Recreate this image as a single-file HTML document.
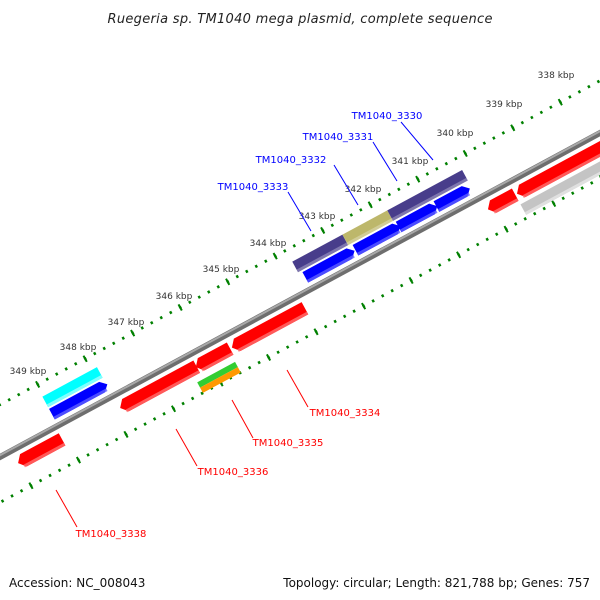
<!DOCTYPE html>
<html><head><meta charset="utf-8"><style>
html,body{margin:0;padding:0;background:#fff;}
svg{display:block;font-family:"DejaVu Sans","Liberation Sans",sans-serif;}
</style></head><body>
<svg width="600" height="600" viewBox="0 0 600 600" xmlns="http://www.w3.org/2000/svg">
<rect width="600" height="600" fill="#fff"/>
<text x="300" y="23" text-anchor="middle" font-size="13" font-style="italic" fill="#222" textLength="385">Ruegeria sp. TM1040 mega plasmid, complete sequence</text>

<g transform="translate(0,457) rotate(-28.37)">
  <line x1="-19.9" y1="-46" x2="720" y2="-46" stroke="#008000" stroke-width="2.8" stroke-dasharray="2.4 8.4"/>
  <line x1="-41.4" y1="-46" x2="720" y2="-46" stroke="#008000" stroke-width="7" stroke-dasharray="2 52"/>
  <line x1="-19.9" y1="40" x2="720" y2="40" stroke="#008000" stroke-width="2.8" stroke-dasharray="2.4 8.4"/>
  <line x1="-41.4" y1="40" x2="720" y2="40" stroke="#008000" stroke-width="7" stroke-dasharray="2 52"/>
  <line x1="-20" y1="0" x2="720" y2="0" stroke="#6e6e6e" stroke-width="6"/>
  <line x1="-20" y1="-1.5" x2="720" y2="-1.5" stroke="#a8a8a8" stroke-width="2"/>

  <g fill="#ff0000">
    <polygon points="13,14 19,7 63,7 63,21 19,21"/>
    <polygon points="129,14 135,7 216,7 216,21 135,21"/>
    <polygon points="215,14 221,7 254,7 254,21 221,21"/>
    <polygon points="256,14 262,7 339,7 339,21 262,21"/>
    <polygon points="547,14 553,7 578,7 578,21 553,21"/>
    <polygon points="580,14 586,7 720,7 720,21 586,21"/>
  </g>
  <g fill="#ff7070" opacity="0.8">
    <rect x="17" y="18" width="46" height="3"/>
    <rect x="133" y="18" width="83" height="3"/>
    <rect x="219" y="18" width="35" height="3"/>
    <rect x="260" y="18" width="79" height="3"/>
    <rect x="551" y="18" width="27" height="3"/>
    <rect x="584" y="18" width="136" height="3"/>
  </g>
  <rect x="578" y="25" width="142" height="12" fill="#c4c4c4"/>
  <rect x="578" y="34" width="142" height="3" fill="#e0e0e0"/>
  <rect x="209" y="28" width="43" height="6" fill="#32cd32"/>
  <rect x="209" y="34" width="43" height="6" fill="#ff9900"/>

  <g fill="#0000ff">
    <polygon points="66,-19 123,-19 129,-13 123,-7 66,-7"/>
    <polygon points="354,-19 404,-19 410,-13 404,-7 354,-7"/>
    <polygon points="411,-19 456,-19 462,-13 456,-7 411,-7"/>
    <polygon points="460,-19 498,-19 504,-13 498,-7 460,-7"/>
    <polygon points="503,-19 535,-19 541,-13 535,-7 503,-7"/>
  </g>
  <g fill="#6060ff" opacity="0.8">
    <rect x="66" y="-10" width="60" height="3"/>
    <rect x="354" y="-10" width="53" height="3"/>
    <rect x="411" y="-10" width="48" height="3"/>
    <rect x="460" y="-10" width="41" height="3"/>
    <rect x="503" y="-10" width="35" height="3"/>
  </g>
  <rect x="66" y="-33" width="62" height="12" fill="#00ffff"/>
  <rect x="66" y="-24" width="62" height="3" fill="#80ffff"/>
  <rect x="350" y="-33" width="57" height="12" fill="#483d8b"/>
  <rect x="407" y="-33" width="51" height="12" fill="#bdb76b"/>
  <rect x="458" y="-33" width="85" height="12" fill="#483d8b"/>
  <rect x="350" y="-24" width="193" height="3" fill="#ffffff" opacity="0.3"/>
</g>

<g font-size="9" fill="#333" text-anchor="middle">
  <text x="556" y="78">338 kbp</text>
  <text x="504" y="107">339 kbp</text>
  <text x="455" y="136">340 kbp</text>
  <text x="410" y="164">341 kbp</text>
  <text x="363" y="192">342 kbp</text>
  <text x="317" y="219">343 kbp</text>
  <text x="268" y="246">344 kbp</text>
  <text x="221" y="272">345 kbp</text>
  <text x="174" y="299">346 kbp</text>
  <text x="126" y="325">347 kbp</text>
  <text x="78" y="350">348 kbp</text>
  <text x="28" y="374">349 kbp</text>
</g>

<g stroke="#0000ff" stroke-width="1">
  <line x1="401" y1="122" x2="433" y2="160"/>
  <line x1="373" y1="142" x2="397" y2="181"/>
  <line x1="334" y1="165" x2="358" y2="205"/>
  <line x1="288" y1="192" x2="311" y2="231"/>
</g>
<g font-size="10" fill="#0000ff" text-anchor="middle">
  <text x="387" y="119">TM1040_3330</text>
  <text x="338" y="140">TM1040_3331</text>
  <text x="291" y="163">TM1040_3332</text>
  <text x="253" y="190">TM1040_3333</text>
</g>

<g stroke="#ff0000" stroke-width="1">
  <line x1="287" y1="370" x2="308" y2="407"/>
  <line x1="232" y1="400" x2="253" y2="438"/>
  <line x1="176" y1="429" x2="197" y2="466"/>
  <line x1="56" y1="490" x2="77" y2="527"/>
</g>
<g font-size="10" fill="#ff0000" text-anchor="middle">
  <text x="345" y="416">TM1040_3334</text>
  <text x="288" y="446">TM1040_3335</text>
  <text x="233" y="475">TM1040_3336</text>
  <text x="111" y="537">TM1040_3338</text>
</g>

<text x="9" y="587" font-size="12" fill="#111">Accession: NC_008043</text>
<text x="590" y="587" font-size="12" fill="#111" text-anchor="end">Topology: circular; Length: 821,788 bp; Genes: 757</text>
</svg>
</body></html>
